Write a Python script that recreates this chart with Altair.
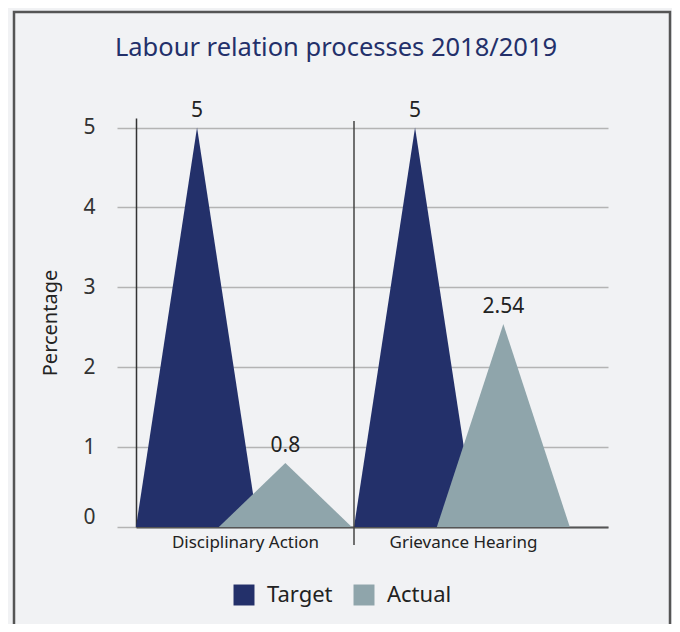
import altair as alt
import pandas as pd

title_text = "Labour relation processes 2018/2019"
categories = ["Disciplinary Action", "Grievance Hearing"]
series_names = ["Target", "Actual"]
target = [5, 5]
actual = [0.8, 2.54]
y_ticks = [0, 1, 2, 3, 4, 5]

NAVY = "#23306a"
GREY = "#8fa5ab"
BG = "#f1f2f4"
FONT = "Noto Sans"

# triangle geometry inside each category band (band = 1 unit)
geom = {"Target": (0.28, 0.28), "Actual": (0.685, 0.305)}
values = {"Target": target, "Actual": actual}

tri_frames = {}
labels = []
for s in series_names:
    rows = []
    c, hw = geom[s]
    for i, cat in enumerate(categories):
        v = values[s][i]
        for dx, yy in [(-hw, 0), (0, v), (hw, 0)]:
            rows.append({"x": i + c + dx, "y": yy, "series": s, "tri": f"{s}-{i}"})
        labels.append({"x": i + c, "y": v, "series": s, "label": f"{v:g}"})
    tri_frames[s] = pd.DataFrame(rows)

lab = pd.DataFrame(labels)

W, H = 472, 409
XMAX = W / 218.0
YMAX = 5.12

label_expr = " : ".join(
    [f"datum.value < {i + 1} ? '{c}'" for i, c in enumerate(categories[:-1])]
    + [f"'{categories[-1]}'"]
)

xscale = alt.Scale(domain=[0, XMAX], nice=False, zero=False)
yscale = alt.Scale(domain=[0, YMAX], nice=False)
color = alt.Color(
    "series:N",
    scale=alt.Scale(domain=series_names, range=[NAVY, GREY]),
    sort=series_names,
    legend=alt.Legend(
        title=None, orient="none", direction="horizontal",
        legendX=97, legendY=466,
        symbolType="square", symbolSize=440, symbolStrokeWidth=0,
        labelFontSize=22, labelFont=FONT, labelColor="#222222",
        labelOffset=12, columnPadding=20, symbolOpacity=1,
    ),
)

xaxis = alt.Axis(
    values=[i + 0.5 for i in range(len(categories))],
    labelExpr=label_expr, ticks=False, grid=False, title=None,
    domainColor="#555555", domainWidth=2,
    labelFontSize=17, labelFont=FONT, labelColor="#222222", labelPadding=7,
)
yaxis = alt.Axis(
    values=y_ticks, format="d", title="Percentage", grid=True, gridColor="#b4b4b4", gridWidth=1.5,
    tickSize=19, tickColor="#b4b4b4", tickWidth=1.5,
    domainColor="#333333", domainWidth=1.5,
    labelFontSize=21, labelFont=FONT, labelColor="#333333", labelPadding=22,
    labelBaseline={"condition": {"test": "datum.value == 0", "value": "bottom"}, "value": "middle"},
    titleFontSize=20, titleFont=FONT, titleFontWeight="normal", titleColor="#222222",
    titlePadding=22,
)

areas = []
for s in series_names:
    areas.append(
        alt.Chart(tri_frames[s]).mark_area(opacity=1).encode(
            x=alt.X("x:Q", scale=xscale, axis=xaxis),
            y=alt.Y("y:Q", scale=yscale, axis=yaxis, stack=None),
            color=color,
            detail="tri:N",
        )
    )

text = alt.Chart(lab).mark_text(
    baseline="alphabetic", dy=-11, fontSize=21, font=FONT, color="#222222"
).encode(
    x=alt.X("x:Q", scale=xscale),
    y=alt.Y("y:Q", scale=yscale),
    text="label:N",
)

divider = alt.Chart(pd.DataFrame({"x": [1]})).mark_rule(color="#444444", strokeWidth=1.5).encode(
    x=alt.X("x:Q", scale=xscale),
    y=alt.value(3),
    y2=alt.value(H + 18),
)

border = alt.Chart(pd.DataFrame({"a": [0]})).mark_rect(
    fillOpacity=0, stroke="#555555", strokeWidth=2.5, clip=False
).encode(
    x=alt.value(-122),
    x2=alt.value(534),
    y=alt.value(-106),
    y2=alt.value(H + 140),
)

title = alt.Chart(pd.DataFrame({"t": [title_text]})).mark_text(
    fontSize=25.5, font=FONT, color=NAVY, baseline="alphabetic", align="center"
).encode(
    x=alt.value(200),
    y=alt.value(-62),
    text="t:N",
)

chart = alt.layer(border, *areas, divider, text, title).properties(
    width=W, height=H,
    background=BG,
    padding={"left": 128, "top": 110, "right": 64, "bottom": 97},
    autosize=alt.AutoSizeParams(type="none"),
).configure_view(stroke=None)

chart.save("out.html", embed_options={"renderer": "svg", "actions": False})
